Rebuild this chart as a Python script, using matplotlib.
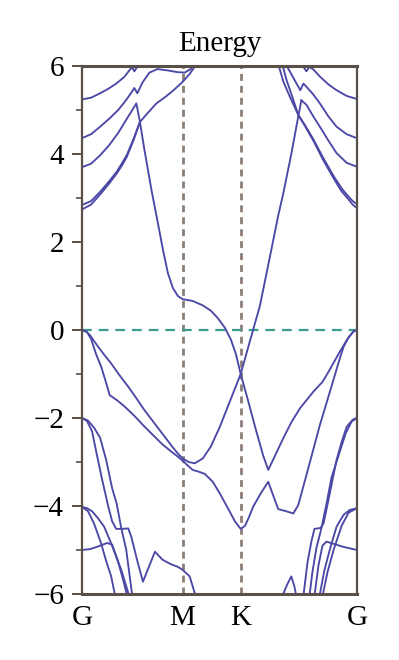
import matplotlib
matplotlib.use("Agg")
import matplotlib.pyplot as plt
from matplotlib.ticker import FixedLocator

# ---------------- data (k along path, energy) ----------------
path_pos = [0.0, 1.0, 1.577, 2.732]
path_labels = ["G", "M", "K", "G"]
ytick_major = [-6, -4, -2, 0, 2, 4, 6]
ytick_minor = [-5, -3, -1, 1, 3, 5]
title_text = "Energy"

# conduction bands near left G
c1 = [(0, 5.24), (0.09, 5.28), (0.18, 5.38), (0.26, 5.48), (0.34, 5.6), (0.42, 5.75),
      (0.47, 5.9), (0.5, 5.97), (0.52, 5.88), (0.55, 5.98), (0.57, 6.1)]
c2 = [(0, 4.36), (0.09, 4.45), (0.18, 4.62), (0.27, 4.8), (0.36, 5.0), (0.43, 5.2),
      (0.48, 5.36), (0.52, 5.5), (0.55, 5.38), (0.6, 5.62), (0.67, 5.85), (0.75, 5.93),
      (0.85, 5.9), (0.95, 5.86), (1.02, 5.85), (1.08, 5.93), (1.12, 6.1)]
# band from G (3.7) -> peak -> steep fall through M (0.7) -> K -> V -> G (0)
c3 = [(0, 3.7), (0.09, 3.78), (0.18, 3.97), (0.27, 4.2), (0.36, 4.48), (0.44, 4.78),
      (0.5, 5.0), (0.54, 5.15), (0.576, 4.73), (0.62, 4.1), (0.689, 3.2), (0.755, 2.42),
      (0.805, 1.82), (0.854, 1.29), (0.904, 0.95), (0.954, 0.77), (1.0, 0.70),
      (1.1, 0.66), (1.2, 0.56), (1.28, 0.44), (1.35, 0.27), (1.42, 0.05), (1.48, -0.22),
      (1.53, -0.55), (1.577, -1.0), (1.65, -1.6), (1.72, -2.2), (1.8, -2.85),
      (1.851, -3.18), (1.93, -2.8), (2.0, -2.46), (2.08, -2.1), (2.166, -1.78),
      (2.3, -1.4), (2.39, -1.18), (2.45, -0.95), (2.563, -0.49), (2.64, -0.2),
      (2.695, -0.04), (2.732, 0)]
c4a = [(0, 2.74), (0.09, 2.85), (0.18, 3.08), (0.27, 3.33), (0.346, 3.56), (0.4, 3.75),
       (0.446, 3.94), (0.51, 4.3), (0.576, 4.73), (0.66, 4.95), (0.74, 5.15), (0.83, 5.3),
       (0.91, 5.45), (1.0, 5.64), (1.07, 5.82), (1.14, 6.05)]
c4b = [(0, 2.84), (0.09, 2.93), (0.18, 3.14), (0.27, 3.38), (0.346, 3.6), (0.4, 3.8),
       (0.446, 3.98), (0.51, 4.33), (0.576, 4.73)]

# valence bands from left G (0)
va = [(0, 0), (0.05, -0.05), (0.09, -0.2), (0.14, -0.55), (0.19, -0.83), (0.24, -1.2),
      (0.275, -1.48), (0.35, -1.6), (0.424, -1.74), (0.52, -1.95), (0.623, -2.2),
      (0.72, -2.42), (0.8, -2.6), (0.88, -2.75), (0.954, -2.88), (1.0, -2.97),
      (1.06, -3.1), (1.1, -3.18), (1.16, -3.22), (1.22, -3.27), (1.3, -3.45),
      (1.371, -3.72), (1.45, -4.05), (1.52, -4.35), (1.577, -4.52), (1.62, -4.45),
      (1.66, -4.25), (1.7, -4.02), (1.78, -3.7), (1.851, -3.45), (1.9, -3.76),
      (1.95, -4.07), (2.03, -4.12), (2.1, -4.17), (2.149, -3.98), (2.23, -3.3),
      (2.364, -2.16), (2.464, -1.4), (2.563, -0.64), (2.6, -0.38), (2.65, -0.16),
      (2.7, -0.03), (2.732, 0)]
vb = [(0, 0), (0.04, -0.03), (0.08, -0.12), (0.16, -0.38), (0.22, -0.56), (0.29, -0.76),
      (0.37, -1.02), (0.46, -1.29), (0.54, -1.55), (0.62, -1.82), (0.72, -2.12),
      (0.82, -2.42), (0.9, -2.66), (0.95, -2.8), (1.0, -2.92), (1.06, -3.0),
      (1.12, -3.03), (1.2, -2.92), (1.28, -2.65), (1.37, -2.2), (1.47, -1.62),
      (1.577, -1.0), (1.7, 0.0), (1.768, 0.55), (1.868, 1.67), (1.95, 2.6), (2.0, 3.1),
      (2.08, 4.0), (2.149, 4.85), (2.18, 5.22)]

# conduction bands near right G
rc1 = [(2.732, 5.25), (2.63, 5.32), (2.53, 5.45), (2.45, 5.58), (2.364, 5.76),
       (2.3, 5.92), (2.26, 5.98), (2.23, 5.88), (2.2, 5.98), (2.18, 6.1)]
rc2 = [(2.732, 4.36), (2.63, 4.45), (2.53, 4.62), (2.45, 4.85), (2.364, 5.15),
       (2.3, 5.35), (2.23, 5.53), (2.2, 5.6), (2.17, 5.45), (2.12, 5.65), (2.06, 5.9),
       (2.02, 6.05)]
rc3 = [(2.18, 5.22), (2.23, 5.12), (2.3, 4.85), (2.364, 4.62), (2.45, 4.3),
       (2.53, 4.02), (2.63, 3.8), (2.732, 3.71)]
rc4a = [(2.732, 2.77), (2.69, 2.85), (2.63, 3.02), (2.58, 3.15), (2.5, 3.45),
        (2.4, 3.85), (2.3, 4.3), (2.22, 4.62), (2.149, 4.89), (2.066, 5.3), (2.0, 5.65),
        (1.95, 6.05)]
rc4b = [(2.732, 2.86), (2.69, 2.93), (2.63, 3.08), (2.58, 3.22), (2.5, 3.5),
        (2.4, 3.9), (2.3, 4.33), (2.22, 4.64), (2.149, 4.89), (2.09, 5.3), (2.03, 5.7),
        (1.99, 6.05)]

# deeper valence bands, left G
la = [(0, -2.0), (0.05, -2.07), (0.1, -2.3), (0.14, -2.75), (0.2, -3.4), (0.26, -4.0),
      (0.3, -4.35), (0.34, -4.52), (0.4, -4.52), (0.46, -4.51), (0.49, -4.7),
      (0.55, -5.25), (0.606, -5.72), (0.665, -5.38), (0.725, -5.04), (0.8, -5.22),
      (0.88, -5.32), (0.95, -5.38), (1.0, -5.45), (1.07, -5.6), (1.13, -6.05)]
lb = [(0, -2.0), (0.06, -2.06), (0.12, -2.22), (0.18, -2.45), (0.24, -2.95),
      (0.3, -3.6), (0.345, -3.95), (0.39, -4.5), (0.44, -5.0), (0.5, -6.05)]
l4a = [(0, -4.02), (0.05, -4.05), (0.1, -4.12), (0.16, -4.28), (0.22, -4.47),
       (0.29, -4.85), (0.34, -5.15), (0.39, -5.45), (0.43, -5.75), (0.47, -6.05)]
l4b = [(0, -4.02), (0.06, -4.12), (0.12, -4.4), (0.19, -4.85), (0.24, -5.25),
       (0.29, -5.6), (0.33, -6.05)]
l5 = [(0, -5.0), (0.08, -4.98), (0.16, -4.92), (0.25, -4.84), (0.3, -4.88),
      (0.35, -5.2), (0.4, -5.6), (0.45, -6.05)]

# deeper valence bands, right G
ra = [(2.732, -2.0), (2.69, -2.04), (2.63, -2.2), (2.58, -2.55), (2.53, -2.95),
      (2.464, -3.7), (2.4, -4.4), (2.37, -4.5), (2.31, -4.52), (2.28, -4.8),
      (2.24, -5.3), (2.2, -6.05)]
rb = [(2.732, -2.0), (2.68, -2.08), (2.62, -2.35), (2.55, -2.85), (2.48, -3.35),
      (2.43, -3.95), (2.38, -4.5), (2.33, -4.95), (2.29, -5.5), (2.26, -6.05)]
r4a = [(2.732, -4.05), (2.66, -4.09), (2.6, -4.2), (2.53, -4.47), (2.47, -4.93),
       (2.41, -5.45), (2.36, -6.05)]
r4b = [(2.732, -4.05), (2.65, -4.15), (2.58, -4.45), (2.5, -5.0), (2.44, -5.5),
       (2.39, -6.05)]
r5 = [(2.732, -5.0), (2.6, -4.93), (2.5, -4.86), (2.43, -4.81), (2.39, -4.9),
      (2.35, -5.35), (2.31, -6.05)]
rsmall = [(1.99, -6.05), (2.04, -5.78), (2.08, -5.6), (2.11, -5.82), (2.13, -6.05)]

bands = [c1, c2, c3, c4a, c4b, va, vb, rc1, rc2, rc3, rc4a, rc4b,
         la, lb, l4a, l4b, l5, ra, rb, r4a, r4b, r5, rsmall]

# ---------------- styling ----------------
plt.rcParams["lines.scale_dashes"] = False
serif = ["Liberation Serif", "DejaVu Serif"]
band_color = "#4b48a6"
vline_color = "#8c7e76"
fermi_color = "#3a9b8e"
frame_color = "#5b4f49"

fig = plt.figure(figsize=(3.99, 6.60), dpi=100)
ax = fig.add_axes([0.2055, 0.10, 0.689, 0.80])

for x in path_pos[1:-1]:
    ax.axvline(x, color=vline_color, lw=2.0, dashes=(5, 3.6), zorder=1)
ax.axhline(0, color=fermi_color, lw=1.6, dashes=(7, 5), zorder=1)

for b in bands:
    ks = [p[0] for p in b]
    es = [p[1] for p in b]
    ax.plot(ks, es, color=band_color, lw=1.35, zorder=2, solid_joinstyle="round")

ax.set_xlim(path_pos[0], path_pos[-1])
ax.set_ylim(-6, 6)

ax.set_xticks(path_pos)
ax.set_xticklabels(path_labels, fontfamily=serif, fontsize=21)
ax.tick_params(axis="x", length=0, pad=8)

ax.yaxis.set_major_locator(FixedLocator(ytick_major))
ax.yaxis.set_minor_locator(FixedLocator(ytick_minor))
ax.set_yticklabels([f"{v}".replace("-", "\u2212") for v in ytick_major],
                   fontfamily=serif, fontsize=21)
ax.tick_params(axis="y", which="major", direction="out", length=7, width=1.4,
               color=frame_color, pad=6)
ax.tick_params(axis="y", which="minor", direction="out", length=4, width=1.2,
               color=frame_color)

for side, lw in (("top", 2.2), ("bottom", 2.2), ("left", 1.6), ("right", 1.6)):
    ax.spines[side].set_color(frame_color)
    ax.spines[side].set_linewidth(lw)

ax.set_title(title_text, fontfamily=serif, fontsize=21, pad=11)

fig.savefig("out.png", dpi=100)
